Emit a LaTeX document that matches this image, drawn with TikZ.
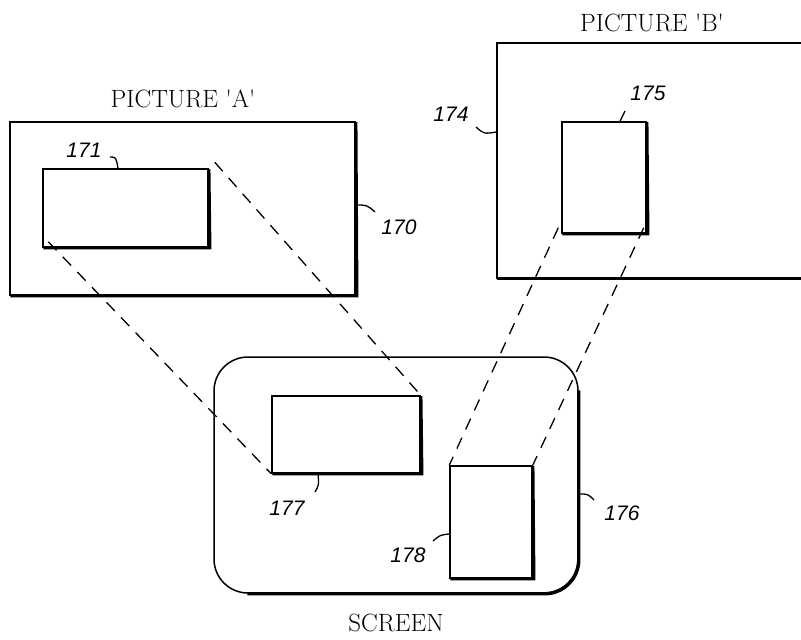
\documentclass[tikz,border=0pt]{standalone}
\usepackage{fontspec}
\newfontfamily\numfont{Liberation Sans}
\begin{document}
\begin{tikzpicture}[x=1pt,y=-1pt,
  frame/.style={draw, line width=1.5pt, fill=white, inner sep=0pt},
  shadowline/.style={line width=3.4pt},
  dashline/.style={dashed, dash pattern=on 12pt off 9pt, line width=1.3pt},
  leader/.style={line width=1.3pt},
  title/.style={font=\fontsize{25}{28}\selectfont, inner sep=0pt},
  num/.style={font=\numfont\itshape\fontsize{21}{24}\selectfont, inner sep=0pt}]
\clip (0,0) rectangle (801,640);
\useasboundingbox (0,0) rectangle (801,640);
% Picture A
\node[frame, minimum width=345pt, minimum height=173pt] (A) at (182.5,208.5) {};
\draw[shadowline] ([xshift=1pt]A.south west) -- ([xshift=1pt]A.south east) -- ([yshift=-1pt]A.north east);
\node[frame, minimum width=165pt, minimum height=78pt] (R171) at (125.5,208) {};
\draw[shadowline] ([xshift=1pt]R171.south west) -- ([xshift=1pt]R171.south east) -- ([yshift=-1pt]R171.north east);
% Picture B
\node[frame, minimum width=334pt, minimum height=235pt] (B) at (664,160.5) {};
\draw[shadowline] ([xshift=1pt]B.south west) -- ([xshift=1pt]B.south east);
\node[frame, minimum width=84pt, minimum height=111pt] (R175) at (604,177.5) {};
\draw[shadowline] ([xshift=1pt]R175.south west) -- ([xshift=1pt]R175.south east) -- ([yshift=-1pt]R175.north east);
% Screen
\node[frame, rounded corners=34pt, minimum width=364pt, minimum height=236pt] (S) at (396,475) {};
\draw[shadowline] ([xshift=34pt]S.south west) -- ([xshift=-34pt]S.south east)
  arc[start angle=-90, end angle=0, radius=34pt] -- ([yshift=-34pt]S.north east);
\node[frame, minimum width=148pt, minimum height=77pt] (R177) at (346,434.5) {};
\draw[shadowline] ([xshift=1pt]R177.south west) -- ([xshift=1pt]R177.south east) -- ([yshift=-1pt]R177.north east);
\node[frame, minimum width=82pt, minimum height=112pt] (R178) at (491,522) {};
\draw[shadowline] ([xshift=1pt]R178.south west) -- ([xshift=1pt]R178.south east) -- ([yshift=-1pt]R178.north east);
% dashed projection lines
\draw[dashline] ([shift={(6pt,6pt)}]R171.north east) -- (R177.north east);
\draw[dashline] ([shift={(6pt,6pt)}]R171.south west) -- (R177.south west);
\draw[dashline] ([shift={(-3pt,6pt)}]R175.south west) -- (R178.north west);
\draw[dashline] ([shift={(-3pt,6pt)}]R175.south east) -- (R178.north east);
% titles
\node[title] (tA) at (183,99) {PICTURE \textquotesingle A\textquotesingle};
\node[title] (tB) at (652,23) {PICTURE \textquotesingle B\textquotesingle};
\node[title] (tS) at (396,623) {SCREEN};
% numbers
\node[num] (n171) at (84,150) {171};
\node[num] (n170) at (399,227) {170};
\node[num] (n174) at (451,114) {174};
\node[num] (n175) at (648,93) {175};
\node[num] (n177) at (287,508) {177};
\node[num] (n178) at (408,555) {178};
\node[num] (n176) at (622,513) {176};
% leaders
\coordinate (c171) at (110,157);
\coordinate (c170) at (375,212);
\coordinate (c174) at (476,127);
\coordinate (c175) at (625,111);
\coordinate (c177) at (315,492);
\coordinate (c178) at (433,541);
\coordinate (c176) at (594,500);
\draw[leader] (c171) .. controls (116,157) .. (R171.north -| 118,0);
\draw[leader] (A.east |- 0,205) .. controls (367,205) .. (c170);
\draw[leader] (c174) .. controls (484,134) .. (B.west |- 0,132);
\draw[leader] (c175) -- (R175.north -| 620,0);
\draw[leader] (R177.south -| 318,0) .. controls (319,485) .. (c177);
\draw[leader] (c178) .. controls (440,535) .. (R178.west |- 0,534);
\draw[leader] (S.east |- 0,494) .. controls (588,494) .. (c176);
\end{tikzpicture}
\end{document}
